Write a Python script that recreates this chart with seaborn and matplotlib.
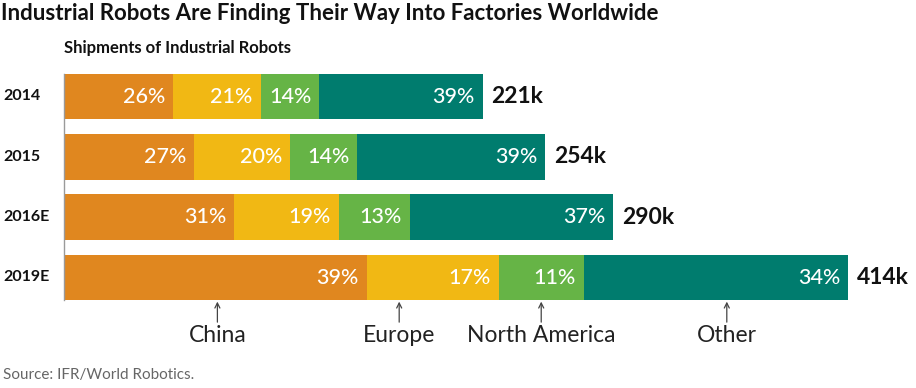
import matplotlib
matplotlib.use("Agg")
import matplotlib.pyplot as plt
import seaborn as sns
import pandas as pd

# data
years = ["2014", "2015", "2016E", "2019E"]
totals = [221, 254, 290, 414]          # thousand units shipped
regions = ["China", "Europe", "North America", "Other"]
china = [26, 27, 31, 39]
europe = [21, 20, 19, 17]
north_america = [14, 14, 13, 11]
other = [39, 39, 37, 34]
region_label_x = [81, 177, 252, 350]   # where the region names sit under the last bar

colors = ["#E0871F", "#F1B814", "#66B446", "#007C6E"]

sns.set_theme(style="white")
plt.rcParams["font.family"] = ["Lato", "DejaVu Sans"]

shares = [china, europe, north_america, other]
rows = []
for i, y in enumerate(years):
    s = sum(sh[i] for sh in shares)
    cum = 0
    for r, sh in zip(regions, shares):
        width = totals[i] * sh[i] / s
        cum += width
        rows.append({"year": y, "region": r, "share": sh[i], "width": width, "end": cum})
df = pd.DataFrame(rows)

fig = plt.figure(figsize=(9.16, 3.88), dpi=100)
W, H = 916, 388
px_per_k = (848 - 64) / 414
top, bot = 60.3, 313.7
ax = fig.add_axes([64 / W, 1 - bot / H, (W - 64) / W, (bot - top) / H])

# stacked bars: draw cumulative ends from right-most segment backwards
for r, c in reversed(list(zip(regions, colors))):
    sub = df[df.region == r]
    sns.barplot(data=sub, x="end", y="year", order=years, color=c,
                width=0.76, saturation=1, ax=ax, linewidth=0)

ax.set_xlim(0, (W - 64) / px_per_k)
ax.set_ylim(3.6, -0.6)
ax.set_xlabel("")
ax.set_ylabel("")
ax.set_xticks([])
ax.set_yticks([])
for sp in ["top", "right", "bottom"]:
    ax.spines[sp].set_visible(False)
ax.spines["left"].set_color("#9a9a9a")
ax.spines["left"].set_linewidth(1)
ax.spines["left"].set_bounds(-0.38, 3.38)

pad = 8 / px_per_k
for _, row in df.iterrows():
    yi = years.index(row.year)
    ax.text(row.end - pad, yi, f"{row.share}%", color="white", fontsize=15.5,
            fontweight="medium", ha="right", va="center")
for i, (y, t) in enumerate(zip(years, totals)):
    ax.text(t + 9 / px_per_k, i, f"{t}k", fontsize=16.5, fontweight="bold",
            ha="left", va="center", color="#111111")
    fig.text(3 / W, 1 - (96.5 + 60.3 * i) / H, y, fontsize=11.5, fontweight="bold",
             ha="left", va="center", color="#111111")

for name, xp in zip(regions, region_label_x):
    ax.annotate("", xy=(xp, 3.40), xytext=(xp, 3.74), annotation_clip=False,
                arrowprops=dict(arrowstyle="->", color="#444444", lw=0.9,
                                shrinkA=0, shrinkB=0, mutation_scale=9))
    ax.text(xp, 3.96, name, fontsize=16.5, ha="center", va="center",
            color="#222222", clip_on=False)

fig.text(1 / W, 1 - 13 / H, "Industrial Robots Are Finding Their Way Into Factories Worldwide",
         fontsize=16, fontweight="bold", ha="left", va="center", color="#111111")
fig.text(64 / W, 1 - 48 / H, "Shipments of Industrial Robots", fontsize=12,
         fontweight="bold", ha="left", va="center", color="#111111")
fig.text(3 / W, 1 - 375 / H, "Source: IFR/World Robotics.", fontsize=11,
         ha="left", va="center", color="#666666")

fig.savefig("out.png", dpi=100)
